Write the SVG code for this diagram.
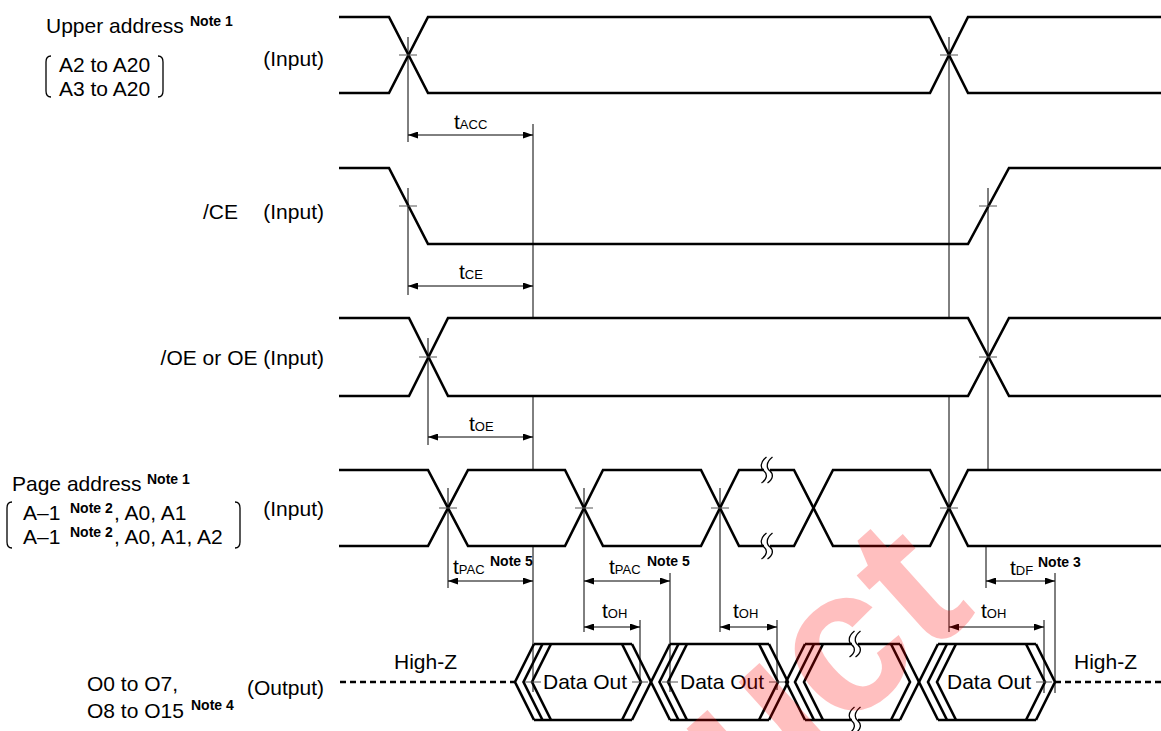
<svg xmlns="http://www.w3.org/2000/svg" width="1161" height="731" viewBox="0 0 1161 731">
<defs>
<marker id="arr" viewBox="0 0 10 7" refX="10" refY="3.5" markerWidth="10" markerHeight="7" markerUnits="userSpaceOnUse" orient="auto-start-reverse"><path d="M0,0 L10,3.5 L0,7 z" fill="#000"/></marker>
<path id="brk" d="M2.5,-13 C-4,-8 -4,-2 0,1 C3.5,4 3.5,9 -2.5,13"/>
</defs>
<style>
.sig{fill:none;stroke:#000;stroke-width:2.6;stroke-linejoin:miter}
.ref{fill:none;stroke:#000;stroke-width:1}
.tick{fill:none;stroke:#555;stroke-width:1}
.dim{fill:none;stroke:#000;stroke-width:1;marker-start:url(#arr);marker-end:url(#arr)}
.hz{stroke-dasharray:6 4}
.brk{fill:none;stroke:#000;stroke-width:1.3}
.gap{fill:#fff;stroke:none}
.brace{fill:none;stroke:#000;stroke-width:1.3}
text{font-family:"Liberation Sans",Arial,Helvetica,sans-serif;font-size:21px;fill:#000}
.sub{font-size:13px}
.note{font-size:14px;font-weight:bold}
</style>
<rect width="1161" height="731" fill="#fff"/>

<g id="label-upper">
<text x="46" y="33">Upper address</text>
<text class="note" x="190" y="26">Note 1</text>
<path class="brace" d="M51,56 Q46,56 46,62 L46,91 Q46,97 51,97"/>
<text x="59" y="72">A2 to A20</text>
<text x="59" y="96">A3 to A20</text>
<path class="brace" d="M158,56 Q163,56 163,62 L163,91 Q163,97 158,97"/>
<text x="324" y="66" text-anchor="end">(Input)</text>
</g>
<g id="label-ce">
<text x="203" y="219">/CE</text>
<text x="324" y="219" text-anchor="end">(Input)</text>
</g>
<g id="label-oe">
<text x="324" y="365" text-anchor="end">/OE or OE (Input)</text>
</g>
<g id="label-page">
<text x="12" y="491">Page address</text>
<text class="note" x="147" y="484">Note 1</text>
<path class="brace" d="M12,502 Q7,502 7,508 L7,542 Q7,548 12,548"/>
<text x="23" y="520">A–1</text>
<text class="note" x="70" y="513">Note 2</text>
<text x="114" y="520">, A0, A1</text>
<text x="23" y="544">A–1</text>
<text class="note" x="70" y="537">Note 2</text>
<text x="114" y="544">, A0, A1, A2</text>
<path class="brace" d="M235,502 Q240,502 240,508 L240,542 Q240,548 235,548"/>
<text x="324" y="516" text-anchor="end">(Input)</text>
</g>
<g id="label-out">
<text x="87" y="691">O0 to O7,</text>
<text x="87" y="718">O8 to O15</text>
<text class="note" x="191" y="710">Note 4</text>
<text x="324" y="695" text-anchor="end">(Output)</text>
<text x="394" y="669">High-Z</text>
<text x="1074" y="669">High-Z</text>
</g>

<g id="signal-upper">
<path class="sig" d="M339,17 H389 L428,93 H930 L968,17 H1161"/>
<path class="sig" d="M339,93 H389 L428,17 H930 L968,93 H1161"/>
</g>
<g id="signal-ce">
<path class="sig" d="M339,168 H389 L428,244 H968 L1009,168 H1161"/>
</g>
<g id="signal-oe">
<path class="sig" d="M339,318 H409 L448,396 H968 L1009,318 H1161"/>
<path class="sig" d="M339,396 H409 L448,318 H968 L1009,396 H1161"/>
</g>
<g id="signal-page">
<path class="sig" d="M339,470 H428 L468,546 H565 L603,470 H701 L739,546 H794 L833,470 H930 L968,546 H1161"/>
<path class="sig" d="M339,546 H428 L468,470 H565 L603,546 H701 L739,470 H794 L833,546 H930 L968,470 H1161"/>
<rect class="gap" x="764" y="466" width="6" height="8"/>
<rect class="gap" x="764" y="542" width="6" height="8"/>
<use href="#brk" class="brk" transform="translate(764,470)"/>
<use href="#brk" class="brk" transform="translate(770,470)"/>
<use href="#brk" class="brk" transform="translate(764,546)"/>
<use href="#brk" class="brk" transform="translate(770,546)"/>
</g>
<g id="signal-out">
<path class="sig hz" d="M340,682 H515"/>
<path class="sig hz" d="M1055,682 H1161"/>
<g id="data1">
<path class="sig" d="M534,644 L515,682 L534,720 M542.5,644 L523.5,682 L542.5,720 M551,644 L532,682 L551,720"/>
<path class="sig" d="M622,644 L641,682 L622,720 M632,644 L651,682 L632,720"/>
<path class="sig" d="M534,644 H632 M534,720 H632"/>
<text x="543" y="689">Data Out</text>
</g>
<g id="data2">
<path class="sig" d="M670,644 L651,682 L670,720 M678.5,644 L659.5,682 L678.5,720 M687,644 L668,682 L687,720"/>
<path class="sig" d="M759,644 L778,682 L759,720 M769,644 L788,682 L769,720"/>
<path class="sig" d="M670,644 H769 M670,720 H769"/>
<text x="680" y="689">Data Out</text>
</g>
<g id="data3">
<path class="sig" d="M805,644 L786,682 L805,720 M814,644 L795,682 L814,720 M823,644 L804,682 L823,720"/>
<path class="sig" d="M891,644 L910,682 L891,720 M900,644 L919,682 L900,720"/>
<path class="sig" d="M805,644 H900 M805,720 H900"/>
<rect class="gap" x="852" y="640" width="6" height="8"/>
<rect class="gap" x="852" y="716" width="6" height="8"/>
<use href="#brk" class="brk" transform="translate(852,644)"/>
<use href="#brk" class="brk" transform="translate(858,644)"/>
<use href="#brk" class="brk" transform="translate(852,720)"/>
<use href="#brk" class="brk" transform="translate(858,720)"/>
</g>
<g id="data4">
<path class="sig" d="M938,644 L919,682 L938,720 M947,644 L928,682 L947,720 M956,644 L937,682 L956,720"/>
<path class="sig" d="M1026,644 L1045,682 L1026,720 M1036,644 L1055,682 L1036,720"/>
<path class="sig" d="M938,644 H1036 M938,720 H1036"/>
<text x="947" y="689">Data Out</text>
</g>
</g>

<g id="connectors">
<path class="ref" d="M408,37 V142 M408,188 V295 M428,338 V445 M448,488 V588 M584,488 V632 M720,488 V632 M949,37 V318 M949,396 V632 M988,188 V470 M986,546 V588 M533,124 V318 M533,396 V470 M533,546 V692 M670,573 V692 M640,620 V686 M777,620 V690 M1044,620 V693 M1055,573 V693"/>
<path class="tick" d="M399,55 H417 M940,55 H958 M399,206 H417 M979,206 H997 M419,357 H437 M979,357 H997 M439,508 H457 M575,508 H593 M711,508 H729 M940,508 H958 M525,682 H541 M632,682 H648 M662,682 H678 M769,682 H785 M1036,682 H1052"/>
<line class="dim" x1="408" y1="135" x2="533" y2="135"/>
<line class="dim" x1="408" y1="286" x2="533" y2="286"/>
<line class="dim" x1="428" y1="437" x2="533" y2="437"/>
<line class="dim" x1="448" y1="581" x2="533" y2="581"/>
<line class="dim" x1="584" y1="581" x2="670" y2="581"/>
<line class="dim" x1="986" y1="581" x2="1055" y2="581"/>
<line class="dim" x1="584" y1="627" x2="640" y2="627"/>
<line class="dim" x1="720" y1="627" x2="777" y2="627"/>
<line class="dim" x1="949" y1="627" x2="1044" y2="627"/>
<text x="454" y="129">t<tspan class="sub">ACC</tspan></text>
<text x="459" y="279">t<tspan class="sub">CE</tspan></text>
<text x="469" y="431">t<tspan class="sub">OE</tspan></text>
<text x="453" y="574">t<tspan class="sub">PAC</tspan></text>
<text class="note" x="490" y="566">Note 5</text>
<text x="609" y="574">t<tspan class="sub">PAC</tspan></text>
<text class="note" x="647" y="566">Note 5</text>
<text x="1010" y="575">t<tspan class="sub">DF</tspan></text>
<text class="note" x="1038" y="567">Note 3</text>
<text x="602" y="618">t<tspan class="sub">OH</tspan></text>
<text x="733" y="618">t<tspan class="sub">OH</tspan></text>
<text x="981" y="618">t<tspan class="sub">OH</tspan></text>
</g>

<g id="watermark">
<text x="0" y="0" text-anchor="end" transform="translate(978,612) rotate(-42)" style="font-size:205px;font-weight:bold;fill:#ff0000;fill-opacity:0.25">uct</text>
</g>
</svg>
